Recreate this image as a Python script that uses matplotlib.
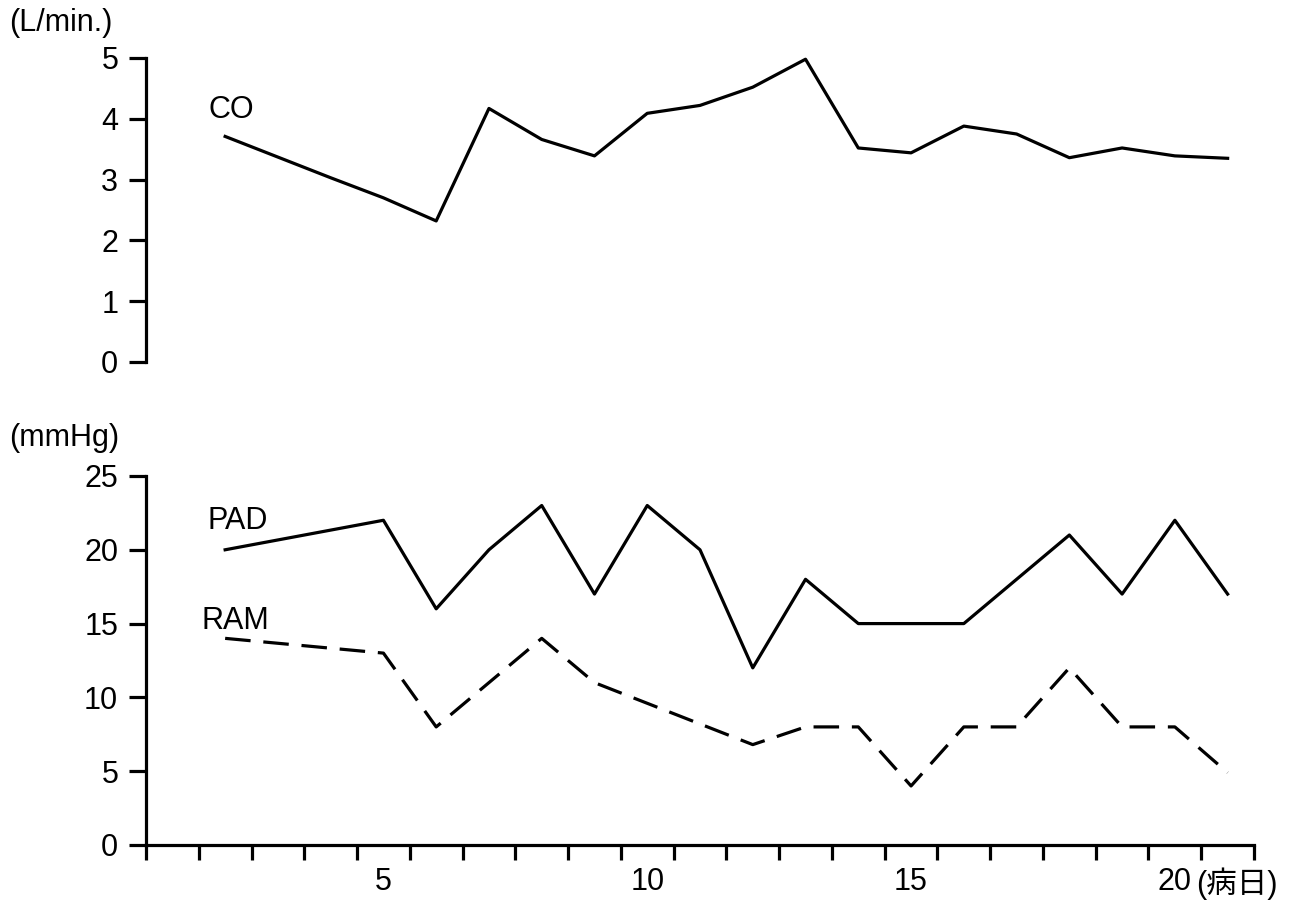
import matplotlib.pyplot as plt

# Данные: сердечный выброс (CO) и давления (PAD, RAM) по дням болезни
co_days = [2, 3, 4, 5, 6, 7, 8, 9, 10, 11, 12, 13, 14, 15, 16, 17, 18, 19, 20, 21]
co_vals = [3.71, 3.37, 3.03, 2.70, 2.32, 4.17, 3.66, 3.39, 4.09, 4.22,
           4.52, 4.98, 3.52, 3.44, 3.88, 3.75, 3.36, 3.52, 3.39, 3.35]

pad_days = [2, 5, 6, 7, 8, 9, 10, 11, 12, 13, 14, 16, 18, 19, 20, 21]
pad_vals = [20, 22, 16, 20, 23, 17, 23, 20, 12, 18, 15, 15, 21, 17, 22, 17]

ram_days = [2, 5, 6, 8, 9, 12, 13, 14, 15, 16, 17, 18, 19, 20, 21]
ram_vals = [14, 13, 8, 14, 11, 6.8, 8, 8, 4, 8, 8, 12, 8, 8, 4.9]

co_ticks = [0, 1, 2, 3, 4, 5]
mmhg_ticks = [0, 5, 10, 15, 20, 25]
day_labels = [5, 10, 15, 20]

plt.rcParams['font.family'] = ['Liberation Sans', 'Noto Sans CJK JP', 'DejaVu Sans']
fs = 22
lw = 2.3

fig = plt.figure(figsize=(12.92, 9.02), dpi=100)
ax1 = fig.add_axes([0.113, 0.5987, 0.8576, 0.337])
ax2 = fig.add_axes([0.113, 0.0632, 0.8576, 0.4091])

for ax in (ax1, ax2):
    ax.set_xlim(0.5, 21.5)
    for s in ('top', 'right'):
        ax.spines[s].set_visible(False)
    for s in ('left', 'bottom'):
        ax.spines[s].set_linewidth(lw)
    ax.tick_params(axis='y', direction='out', length=12, width=lw,
                   labelsize=fs, pad=8)

# верхний график — CO
ax1.plot(co_days, co_vals, color='black', lw=lw, clip_on=False)
ax1.set_ylim(0, 5)
ax1.set_yticks(co_ticks)
ax1.spines['bottom'].set_visible(False)
ax1.set_xticks([])
ax1.text(2.11, 4.14, 'CO', fontsize=fs, ha='center', va='center')
fig.text(0.007, 0.975, '(L/min.)', fontsize=fs, ha='left', va='center')

# нижний график — PAD и RAM
ax2.plot(pad_days, pad_vals, color='black', lw=lw, clip_on=False)
ax2.plot(ram_days, ram_vals, color='black', lw=lw, dashes=(8, 4), clip_on=False)
ax2.set_ylim(0, 25)
ax2.set_yticks(mmhg_ticks)
ax2.set_xticks(day_labels)
ax2.set_xticklabels([str(d) for d in day_labels])
ax2.tick_params(axis='x', which='major', length=0, labelsize=fs, pad=16)
ax2.set_xticks([d + 0.5 for d in range(0, 22)], minor=True)
ax2.tick_params(axis='x', which='minor', direction='out', length=11, width=lw)
ax2.text(2.24, 21.95, 'PAD', fontsize=fs, ha='center', va='center')
ax2.text(2.19, 15.2, 'RAM', fontsize=fs, ha='center', va='center')
fig.text(0.007, 0.514, '(mmHg)', fontsize=fs, ha='left', va='center')
ax2.annotate('(病日)', xy=(20.4, 0), xycoords=('data', 'axes fraction'),
             xytext=(0, -16), textcoords='offset points',
             fontsize=fs, ha='left', va='top')

plt.savefig('out.png', dpi=100)
